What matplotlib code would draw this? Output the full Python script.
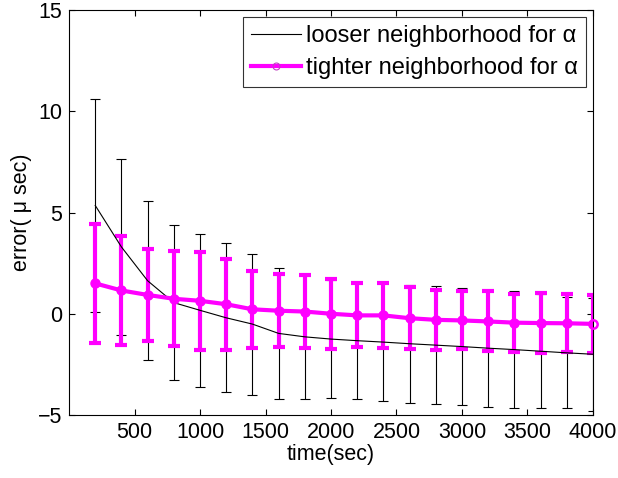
import matplotlib
matplotlib.use('Agg')
import matplotlib.pyplot as plt
from matplotlib.lines import Line2D
import numpy as np

plt.rcParams['font.family'] = ['Liberation Sans', 'DejaVu Sans']

# data
time_sec = [200, 400, 600, 800, 1000, 1200, 1400, 1600, 1800, 2000,
            2200, 2400, 2600, 2800, 3000, 3200, 3400, 3600, 3800, 4000]

looser_mean = [5.35, 3.3, 1.63, 0.55, 0.17, -0.2, -0.51, -0.97, -1.14, -1.25,
               -1.33, -1.4, -1.48, -1.55, -1.62, -1.7, -1.77, -1.85, -1.93, -2.0]
looser_std = [5.25, 4.35, 3.93, 3.82, 3.79, 3.67, 3.48, 3.25, 3.08, 2.92,
              2.89, 2.91, 2.91, 2.92, 2.89, 2.89, 2.88, 2.82, 2.74, 2.8]

tighter_mean = [1.5, 1.15, 0.93, 0.74, 0.64, 0.47, 0.22, 0.15, 0.11, 0.0,
                -0.08, -0.08, -0.22, -0.3, -0.33, -0.38, -0.44, -0.46, -0.47, -0.5]
tighter_std = [2.95, 2.7, 2.27, 2.35, 2.43, 2.25, 1.9, 1.8, 1.78, 1.72,
               1.58, 1.6, 1.53, 1.47, 1.43, 1.48, 1.44, 1.47, 1.44, 1.45]

x_ticks = [500, 1000, 1500, 2000, 2500, 3000, 3500, 4000]
y_ticks = [-5, 0, 5, 10, 15]

magenta = '#ff00ff'

fig = plt.figure(figsize=(6.18, 4.78), dpi=100)
ax = fig.add_axes([0.1117, 0.1318, 0.8478, 0.8472])

ax.errorbar(time_sec, looser_mean, yerr=looser_std, color='black', lw=0.8,
            elinewidth=0.8, capsize=3.6, capthick=0.8)

ax.errorbar(time_sec, tighter_mean, yerr=tighter_std, color=magenta, lw=3,
            elinewidth=3, capsize=4.4, capthick=3)
# circle markers on top (last one sits on the right axis edge)
ax.plot(time_sec[:-1], tighter_mean[:-1], 'o', ms=6.5, color=magenta, zorder=5)
ax.plot(time_sec[-1:], tighter_mean[-1:], 'o', ms=6, mfc='none', mec=magenta,
        mew=1.8, clip_on=False, zorder=5)

ax.set_xlim(0, 4000)
ax.set_ylim(-5, 15)
ax.set_xticks(x_ticks)
ax.set_yticks(y_ticks)
ax.tick_params(direction='in', length=4.5, width=0.8, top=True, right=True,
               labelsize=15.5, pad=5)
for s in ax.spines.values():
    s.set_linewidth(0.8)

ax.set_xlabel('time(sec)', fontsize=15.5, labelpad=1)
ax.set_ylabel('error( \u03bc sec)', fontsize=15.5, labelpad=4)

handles = [Line2D([], [], color='black', lw=0.8),
           Line2D([], [], color=magenta, lw=3, marker='o', ms=5,
                  mfc='none', mec='#c040c0', mew=0.8)]
labels = ['looser neighborhood for \u03b1', 'tighter neighborhood for \u03b1']
leg = ax.legend(handles, labels, loc='upper right', fontsize=17, frameon=True,
                fancybox=False, edgecolor='black', handlelength=2.1,
                handletextpad=0.2, borderpad=0.35, labelspacing=0.4,
                borderaxespad=0.3)
leg.get_frame().set_linewidth(0.8)

fig.savefig('out.png', dpi=100)
